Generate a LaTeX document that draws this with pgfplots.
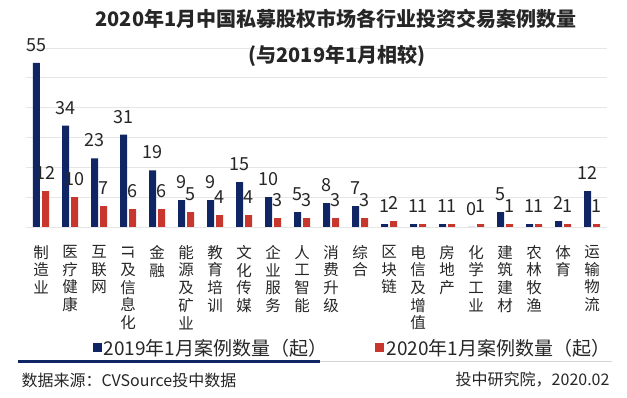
\documentclass[border=0pt]{standalone}
\usepackage{fontspec}
\setmainfont{Noto Sans CJK SC}
\usepackage{pgfplots}
\pgfplotsset{compat=1.18}
\definecolor{navy}{RGB}{16,38,100}
\definecolor{cred}{RGB}{200,55,45}
\definecolor{gridc}{RGB}{230,230,230}
\begin{document}
\begin{tikzpicture}[x=1pt,y=1pt]
\path[use as bounding box] (0,0) rectangle (627,398);
\begin{axis}[
  at={(26.5pt,171pt)}, anchor=south west,
  scale only axis, width=580pt, height=179pt,
  xmin=-0.5, xmax=19.5, ymin=0, ymax=60,
  ytick={0,10,...,60}, yticklabels={},
  ymajorgrids, grid style={gridc, line width=0.8pt},
  axis line style={draw=none},
  major tick length=0pt,
  xtick={0,...,19},
  xticklabels={{制\\造\\业},{医\\疗\\健\\康},{互\\联\\网},{\rotatebox[origin=c]{-90}{IT}\\及\\信\\息\\化},{金\\融},{能\\源\\及\\矿\\业},{教\\育\\培\\训},{文\\化\\传\\媒},{企\\业\\服\\务},{人\\工\\智\\能},{消\\费\\升\\级},{综\\合},{区\\块\\链},{电\\信\\及\\增\\值},{房\\地\\产},{化\\学\\工\\业},{建\\筑\\建\\材},{农\\林\\牧\\渔},{体\\育},{运\\输\\物\\流}},
  xticklabel style={align=center, anchor=north, inner sep=0pt, yshift=-18pt, font=\fontsize{15.5}{17.7}\selectfont, text=black!85},
  /pgf/number format/assume math mode=true,
  ybar, bar width=7pt,
  nodes near coords,
  every node near coord/.append style={font=\fontsize{18}{20}\selectfont, text=black!85, anchor=south, inner sep=0pt, yshift=11pt},
  clip=false,
  legend columns=2,
  legend style={at={(axis description cs:0.562,-0.676)}, anchor=center, draw=none, fill=none, font=\fontsize{19}{21}\selectfont, text=black!85, /tikz/every even column/.append style={column sep=46pt}},
  legend image code/.code={\fill[#1] (0pt,-4.5pt) rectangle (9pt,4.5pt);},
]
\addplot[fill=navy, draw=none, bar shift=-4.5pt] coordinates {
(0,55) (1,34) (2,23) (3,31) (4,19) (5,9) (6,9) (7,15) (8,10) (9,5)
(10,8) (11,7) (12,1) (13,1) (14,1) (15,0) (16,5) (17,1) (18,2) (19,12)};
\addplot[fill=cred, draw=none, bar shift=4.5pt] coordinates {
(0,12) (1,10) (2,7) (3,6) (4,6) (5,5) (6,4) (7,4) (8,3) (9,3)
(10,3) (11,3) (12,2) (13,1) (14,1) (15,1) (16,1) (17,1) (18,1) (19,1)};
\legend{2019年1月案例数量（起）,2020年1月案例数量（起）}
\end{axis}
\node[font=\bfseries\fontsize{20}{22}\selectfont, text=black!85] at (336,379) {2020年1月中国私募股权市场各行业投资交易案例数量};
\node[font=\bfseries\fontsize{20}{22}\selectfont, text=black!85] at (337,342) {(与2019年1月相较)};
\draw[gridc!80!black!60, line width=1pt] (320,36) -- (612,36);
\draw[navy, line width=3pt] (18,36) -- (320,36);
\node[anchor=west, font=\fontsize{16}{18}\selectfont, text=black!85] at (18,18) {数据来源：CVSource投中数据};
\node[anchor=east, font=\fontsize{16}{18}\selectfont, text=black!85] at (613,18) {投中研究院，2020.02};
\end{tikzpicture}
\end{document}
